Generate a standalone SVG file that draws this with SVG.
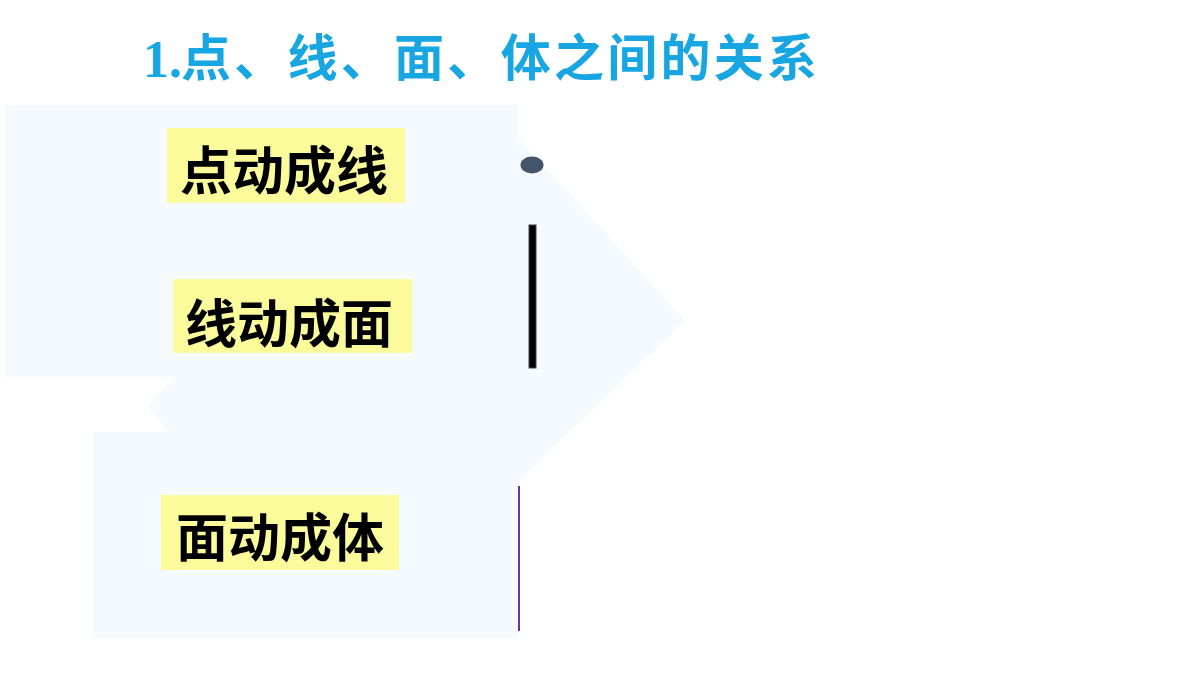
<svg xmlns="http://www.w3.org/2000/svg" width="1200" height="675" viewBox="0 0 1200 675">
<style>
.lbl{font-family:"Noto Sans CJK SC","Noto Sans CJK JP",sans-serif;font-weight:bold;font-size:52px;fill:#000}
.box{fill:#fbfb9c}
.ttl{fill:#17a6e1}
</style>
<rect x="0" y="0" width="1200" height="675" fill="#ffffff"/>
<g id="background-arrow">
<polygon points="5,105 518,105 518,138 685,320 518,482 518,638 93,638 93,432 168,432 148,406 175,377 5,377" fill="#f4fafe"/>
</g>
<g id="title">
<text x="143" y="77" class="ttl" font-weight="bold" font-family="'Liberation Serif',serif" font-size="52">1.</text>
<text x="181" y="76" class="ttl" font-weight="bold" font-family="'Noto Sans CJK SC','Noto Sans CJK JP',sans-serif" font-size="50" textLength="636" lengthAdjust="spacing">点、线、面、体之间的关系</text>
</g>
<g id="node-point-line">
<rect class="box" x="167" y="128" width="238" height="75"/>
<text class="lbl" x="180" y="190">点动成线</text>
</g>
<g id="node-line-surface">
<rect class="box" x="173" y="279" width="239" height="74"/>
<text class="lbl" x="185" y="343">线动成面</text>
</g>
<g id="node-surface-solid">
<rect class="box" x="161" y="495" width="238" height="75"/>
<text class="lbl" x="176" y="557">面动成体</text>
</g>
<g id="shapes">
<ellipse cx="532" cy="165" rx="11.5" ry="8.5" fill="#44546a"/>
<rect x="529" y="225" width="7" height="143" fill="#000000" stroke="#404040" stroke-width="1"/>
<line x1="519" y1="486" x2="519" y2="631" stroke="#7030a0" stroke-width="2"/>
</g>
<g id="connectors"></g>
</svg>
